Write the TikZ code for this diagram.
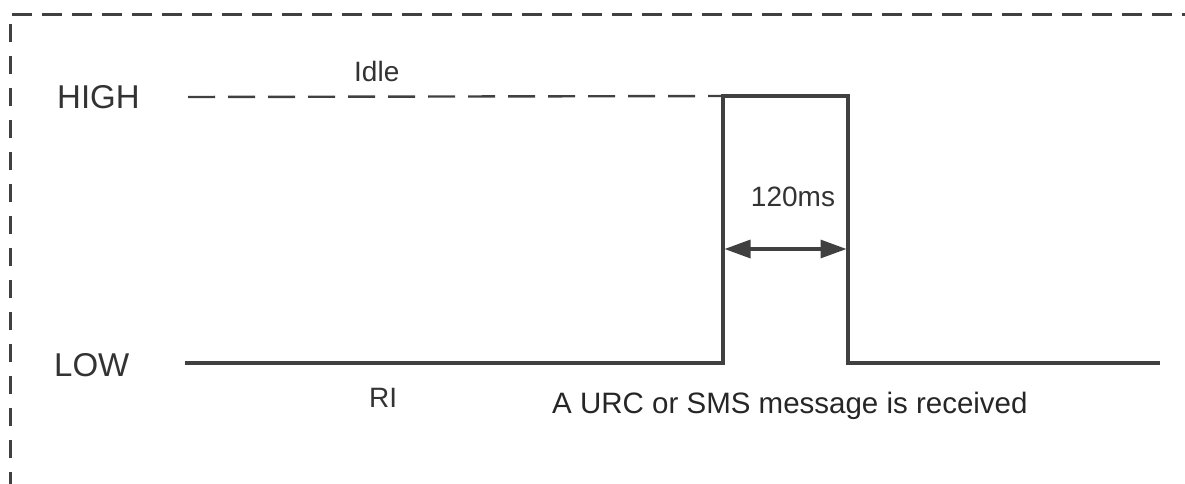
\documentclass[tikz,border=0pt]{standalone}
\usepackage{fontspec}
\setmainfont{Liberation Sans}
\usetikzlibrary{arrows.meta}
\definecolor{ink}{HTML}{404040}
\definecolor{txt}{HTML}{333333}
\tikzset{
  wave/.style={draw=ink, line width=3.2pt, line join=miter},
  framedash/.style={draw=ink, line width=3pt, dash pattern=on 20pt off 10pt},
  leveldash/.style={draw=ink, line width=2.4pt, dash pattern=on 27pt off 13pt},
  lbl/.style={text=txt, inner sep=0pt, font=\fontsize{33}{36}\selectfont},
  smalllbl/.style={text=txt, inner sep=0pt, font=\fontsize{28}{32}\selectfont},
  dim/.style={draw=ink, line width=3.2pt, {Triangle[length=26pt,width=18pt]}-{Triangle[length=26pt,width=18pt]}}
}
\begin{document}
\begin{tikzpicture}[x=1pt,y=-1pt]
\useasboundingbox (0,0) rectangle (1185,484);
% frame
\coordinate (fTL) at (12,15);
\coordinate (fTR) at (1185,15);
\coordinate (fBL) at (10,484);
\coordinate (fLT) at (10,24);
\draw[framedash] (fTL) -- (fTR);
\draw[framedash, dash pattern=on 18pt off 14pt] (fLT) -- (fBL);
% labels
\node[lbl, anchor=west] (high) at (57,97) {HIGH};
\node[lbl, anchor=west] (low) at (54,365) {LOW};
\node[smalllbl, anchor=base west] (idle) at (354,82) {Idle};
\node[smalllbl, anchor=base west] (ri) at (369,407) {RI};
\node[smalllbl, anchor=base] (ms) at (793,206) {120ms};
\node[smalllbl, anchor=base west, font=\fontsize{29.5}{32}\selectfont, text=black!85] (urc) at (552,413) {A URC or SMS message is received};
% waveform
\coordinate (hs) at (188,97);
\coordinate (ls) at (185,363);
\coordinate (r1) at (723,363);
\coordinate (r2) at (723,96);
\coordinate (f1) at (848,96);
\coordinate (f2) at (848,363);
\coordinate (le) at (1160,363);
\draw[leveldash] (hs) -- (r2);
\draw[wave] (ls) -- (r1) -- (r2) -- (f1) -- (f2) -- (le);
% dimension
\coordinate (dA) at (724.5,249);
\coordinate (dB) at (846.5,249);
\draw[dim] (dA) -- (dB);
\end{tikzpicture}
\end{document}
